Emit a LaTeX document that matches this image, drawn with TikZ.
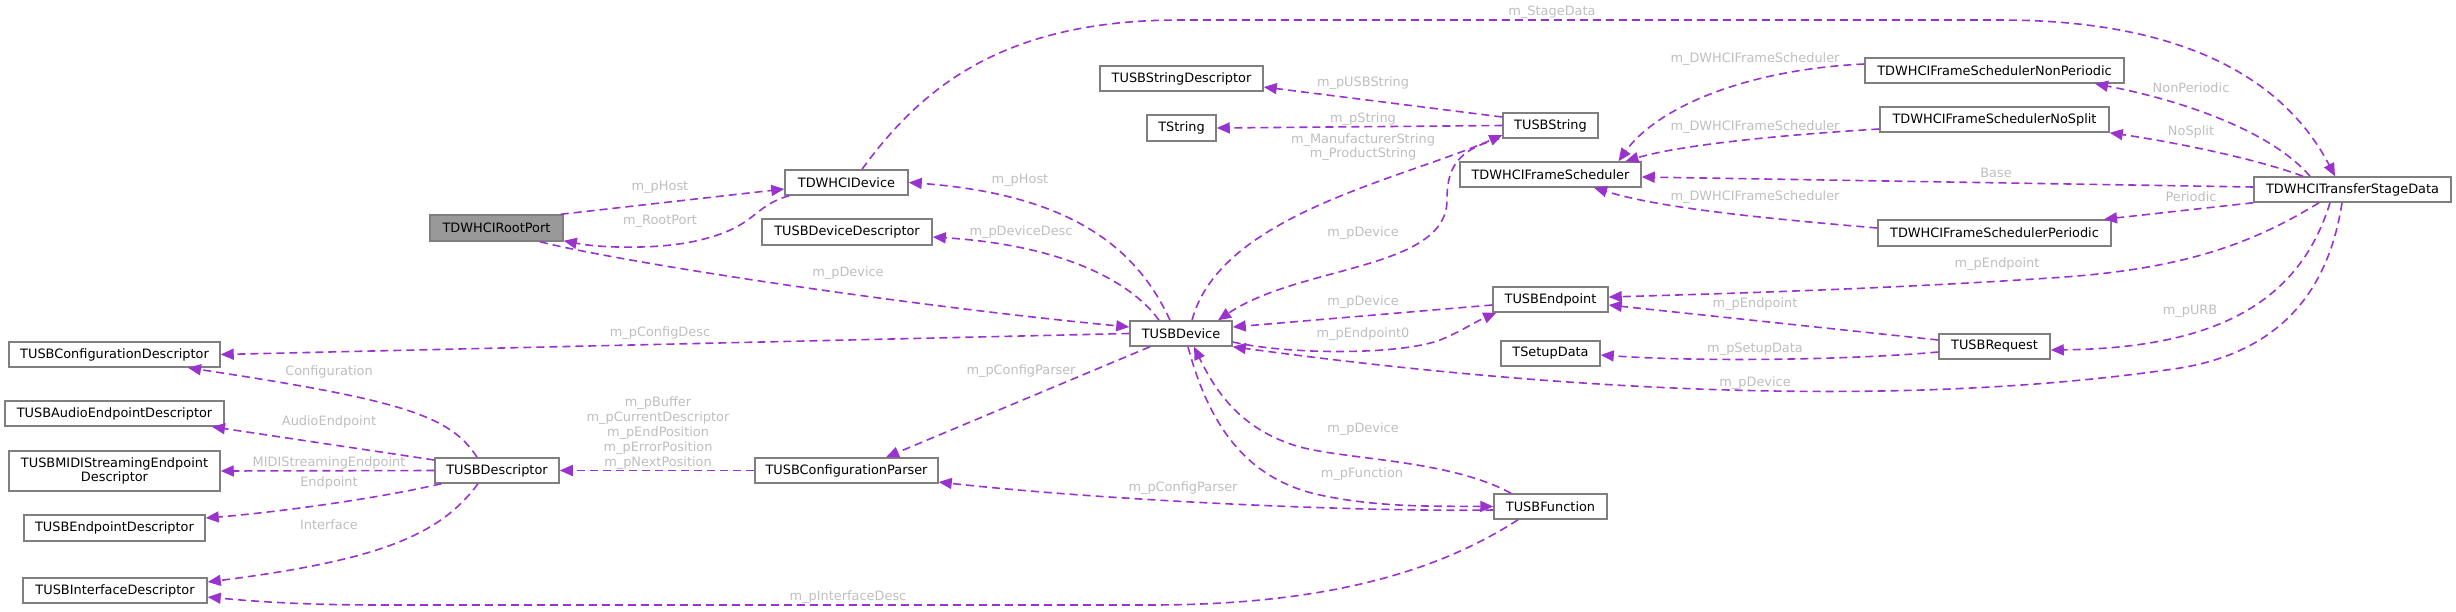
\documentclass[tikz,border=0pt]{standalone}
\usepackage{fontspec}
\setmainfont{DejaVu Sans}
\usetikzlibrary{arrows.meta}
\definecolor{edgec}{HTML}{9A32CD}
\definecolor{lblc}{HTML}{BEBEBE}
\definecolor{boxc}{HTML}{7F7F7F}
\definecolor{rootfill}{HTML}{999999}
\newcommand\bnode[7][box]{\node[#1, minimum width=#5*0.5pt, minimum height=#6*0.5pt] (#2) at (#3,#4) {#7};}
\begin{document}
\begin{tikzpicture}[x=0.5pt,y=-0.5pt,
  font=\fontsize{6.45}{7.3}\selectfont,
  box/.style={draw=boxc, line width=0.75pt, fill=white, inner sep=0pt, align=center, text=black},
  rootbox/.style={box, fill=rootfill},
  lbl/.style={text=lblc, inner sep=0pt, align=center},
  uses/.style={draw=edgec, line width=0.8pt, dash pattern=on 4pt off 2.5pt, -{Triangle[length=6.5pt,width=5.5pt]}},
]
\path[use as bounding box] (0,0) rectangle (2456,611);

% nodes
\bnode[rootbox]{root}{496.5}{228}{133}{26}{TDWHCIRootPort}
\bnode{dev}{846.5}{182.5}{123}{25}{TDWHCIDevice}
\bnode{ddesc}{847}{232}{170}{26}{TUSBDeviceDescriptor}
\bnode{sdesc}{1181.5}{78.5}{163}{25}{TUSBStringDescriptor}
\bnode{tstr}{1181.5}{128}{69}{26}{TString}
\bnode{ustr}{1550.5}{125.5}{95}{25}{TUSBString}
\bnode{fs}{1550.5}{174.5}{181}{25}{TDWHCIFrameScheduler}
\bnode{fsnp}{1994.5}{70.5}{259}{25}{TDWHCIFrameSchedulerNonPeriodic}
\bnode{fsns}{1994.5}{119.5}{229}{25}{TDWHCIFrameSchedulerNoSplit}
\bnode{fsp}{1994.5}{233}{233}{26}{TDWHCIFrameSchedulerPeriodic}
\bnode{tsd}{2352.5}{189.5}{197}{25}{TDWHCITransferStageData}
\bnode{ep}{1550.5}{299.5}{115}{25}{TUSBEndpoint}
\bnode{setup}{1550.5}{353.5}{99}{25}{TSetupData}
\bnode{req}{1994.5}{346.5}{111}{25}{TUSBRequest}
\bnode{udev}{1181}{333.5}{102}{25}{TUSBDevice}
\bnode{cfgp}{846.5}{470.5}{183}{25}{TUSBConfigurationParser}
\bnode{func}{1550.5}{506.5}{113}{25}{TUSBFunction}
\bnode{cdesc}{114.5}{354.5}{211}{25}{TUSBConfigurationDescriptor}
\bnode{adesc}{114.5}{413.5}{219}{25}{TUSBAudioEndpointDescriptor}
\bnode{mdesc}{114.5}{471}{211}{40}{TUSBMIDIStreamingEndpoint\\Descriptor}
\bnode{desc}{497}{470.5}{124}{25}{TUSBDescriptor}
\bnode{edesc}{114.5}{528}{181}{26}{TUSBEndpointDescriptor}
\bnode{idesc}{115}{590.5}{184}{25}{TUSBInterfaceDescriptor}

% connectors
\draw[uses] ([shift={(-3,0)}]root.north east) -- ([shift={(0,6.5)}]dev.west);
\draw[uses] ([shift={(5,0)}]dev.south west) .. controls (752,206) and (758,226) .. (700,240) .. controls (660,250) and (600,248) .. ([shift={(0,-1)}]root.south east);
\draw[uses] ([shift={(43.5,0)}]root.south) .. controls (620,262) and (900,305) .. ([shift={(0,-6.5)}]udev.west);
\draw[uses] ([shift={(-11,0)}]udev.north) .. controls (1140,255) and (1080,195) .. (dev.east);
\draw[uses] ([shift={(-22,0)}]udev.north) .. controls (1130,280) and (1060,245) .. ([shift={(0,5)}]ddesc.east);
\draw[uses] ([shift={(15.5,0)}]dev.north) .. controls (920,90) and (1000,20) .. (1180,20) -- (2000,20) .. controls (2200,20) and (2290,90) .. ([shift={(-17.5,0)}]tsd.north);
\draw[uses] ([shift={(0,-8.5)}]ustr.west) -- ([shift={(0,8.5)}]sdesc.east);
\draw[uses] (ustr.west) -- (tstr.east);
\draw[uses] ([shift={(11,0)}]udev.north) .. controls (1220,215) and (1400,180) .. ([shift={(0,9.5)}]ustr.west);
\draw[uses] ([shift={(-3,0)}]ustr.south west) .. controls (1455,150) and (1447,170) .. (1447,200) .. controls (1447,270) and (1300,265) .. ([shift={(37,0)}]udev.north);
\draw[uses] ([shift={(0,5.5)}]ep.west) -- ([shift={(0,-6.5)}]udev.east);
\draw[uses] ([shift={(0,8.5)}]udev.east) .. controls (1290,355) and (1400,355) .. (1440,340) .. controls (1460,332) and (1475,322) .. ([shift={(4,0)}]ep.south west);
\draw[uses] ([shift={(-10.5,0)}]tsd.south) .. controls (2330,280) and (2290,350) .. (2180,368) .. controls (2000,395) and (1700,410) .. (udev.south east);
\draw[uses] ([shift={(-22.5,0)}]tsd.south) .. controls (2300,300) and (2220,348) .. ([shift={(0,3.5)}]req.east);
\draw[uses] ([shift={(0,-6.5)}]req.west) -- ([shift={(0,5.5)}]ep.east);
\draw[uses] ([shift={(0,5.5)}]req.west) .. controls (1850,360) and (1700,362) .. ([shift={(0,1.5)}]setup.east);
\draw[uses] ([shift={(-33.5,0)}]tsd.south) .. controls (2250,245) and (2180,270) .. (2050,278) .. controls (1900,288) and (1750,293) .. ([shift={(0,-2.5)}]ep.east);
\draw[uses] ([shift={(-42.5,0)}]tsd.north) .. controls (2270,130) and (2180,100) .. ([shift={(100.5,0)}]fsnp.south);
\draw[uses] ([shift={(-49.5,0)}]tsd.north) .. controls (2260,160) and (2180,143) .. (fsns.south east);
\draw[uses] ([shift={(0,-2.5)}]tsd.west) -- ([shift={(0,2.5)}]fs.east);
\draw[uses] (tsd.south west) -- ([shift={(109.5,0)}]fsp.north);
\draw[uses] ([shift={(0,-6.5)}]fsnp.west) .. controls (1740,70) and (1655,110) .. ([shift={(68,0)}]fs.north);
\draw[uses] ([shift={(0,9.5)}]fsns.west) .. controls (1780,135) and (1680,145) .. ([shift={(75,0)}]fs.north);
\draw[uses] ([shift={(0,-5)}]fsp.west) .. controls (1760,218) and (1660,208) .. ([shift={(43.5,0)}]fs.south);
\draw[uses] (udev.west) -- (cdesc.east);
\draw[uses] ([shift={(-20,0)}]desc.north) .. controls (450,415) and (400,400) .. ([shift={(73.5,0)}]cdesc.south);
\draw[uses] ([shift={(0,-10.5)}]desc.west) -- ([shift={(97.5,0)}]adesc.south);
\draw[uses] (desc.west) -- (mdesc.east);
\draw[uses] ([shift={(7,0)}]desc.south west) .. controls (380,498) and (280,512) .. ([shift={(0,-10)}]edesc.east);
\draw[uses] ([shift={(-19,0)}]desc.south) .. controls (440,535) and (380,560) .. ([shift={(0,-8.5)}]idesc.east);
\draw[uses] (cfgp.west) -- (desc.east);
\draw[uses] ([shift={(-31,0)}]udev.south) -- ([shift={(39.5,0)}]cfgp.north);
\draw[uses] ([shift={(7,0)}]udev.south) .. controls (1210,430) and (1250,480) .. (1320,495) .. controls (1380,508) and (1440,506) .. (func.west);
\draw[uses] ([shift={(-39.5,0)}]func.north) .. controls (1450,460) and (1350,460) .. (1300,447) .. controls (1240,430) and (1215,390) .. ([shift={(13,0)}]udev.south);
\draw[uses] ([shift={(0,3.5)}]func.west) .. controls (1350,512) and (1100,500) .. ([shift={(0,11.5)}]cfgp.east);
\draw[uses] ([shift={(-32.5,0)}]func.south) .. controls (1440,570) and (1330,605) .. (1150,605) -- (380,605) .. controls (300,605) and (250,601) .. ([shift={(0,6.5)}]idesc.east);

% labels
\node[lbl] (l1) at (660,187) {m\_pHost};
\node[lbl] (l2) at (660,221) {m\_RootPort};
\node[lbl] (l3) at (848,273) {m\_pDevice};
\node[lbl] (l4) at (1020,180) {m\_pHost};
\node[lbl] (l5) at (1021,232) {m\_pDeviceDesc};
\node[lbl] (l6) at (1552,12) {m\_StageData};
\node[lbl] (l7) at (1363,83) {m\_pUSBString};
\node[lbl] (l8) at (1363,119) {m\_pString};
\node[lbl] (l9) at (1363,147) {m\_ManufacturerString\\m\_ProductString};
\node[lbl] (l10) at (1363,233) {m\_pDevice};
\node[lbl] (l11) at (1363,302) {m\_pDevice};
\node[lbl] (l12) at (1363,334) {m\_pEndpoint0};
\node[lbl] (l13) at (1755,383) {m\_pDevice};
\node[lbl] (l14) at (2190,311) {m\_pURB};
\node[lbl] (l15) at (1755,304) {m\_pEndpoint};
\node[lbl] (l16) at (1755,349) {m\_pSetupData};
\node[lbl] (l17) at (1997,264) {m\_pEndpoint};
\node[lbl] (l18) at (2191,88) {NonPeriodic};
\node[lbl] (l19) at (2191,132) {NoSplit};
\node[lbl] (l20) at (1996,173) {Base};
\node[lbl] (l21) at (2191,197) {Periodic};
\node[lbl] (l22) at (1755,59) {m\_DWHCIFrameScheduler};
\node[lbl] (l23) at (1755,127) {m\_DWHCIFrameScheduler};
\node[lbl] (l24) at (1755,197) {m\_DWHCIFrameScheduler};
\node[lbl] (l25) at (660,333) {m\_pConfigDesc};
\node[lbl] (l26) at (329,372) {Configuration};
\node[lbl] (l27) at (329,422) {AudioEndpoint};
\node[lbl] (l28) at (329,463) {MIDIStreamingEndpoint};
\node[lbl] (l29) at (329,483) {Endpoint};
\node[lbl] (l30) at (329,525) {Interface};
\node[lbl, font=\fontsize{6.45}{7.5}\selectfont] (l31) at (658,433) {m\_pBuffer\\m\_pCurrentDescriptor\\m\_pEndPosition\\m\_pErrorPosition\\m\_pNextPosition};
\node[lbl] (l32) at (1021,371) {m\_pConfigParser};
\node[lbl] (l33) at (1362,474) {m\_pFunction};
\node[lbl] (l34) at (1363,429) {m\_pDevice};
\node[lbl] (l35) at (1183,488) {m\_pConfigParser};
\node[lbl] (l36) at (848,597) {m\_pInterfaceDesc};
\end{tikzpicture}
\end{document}
